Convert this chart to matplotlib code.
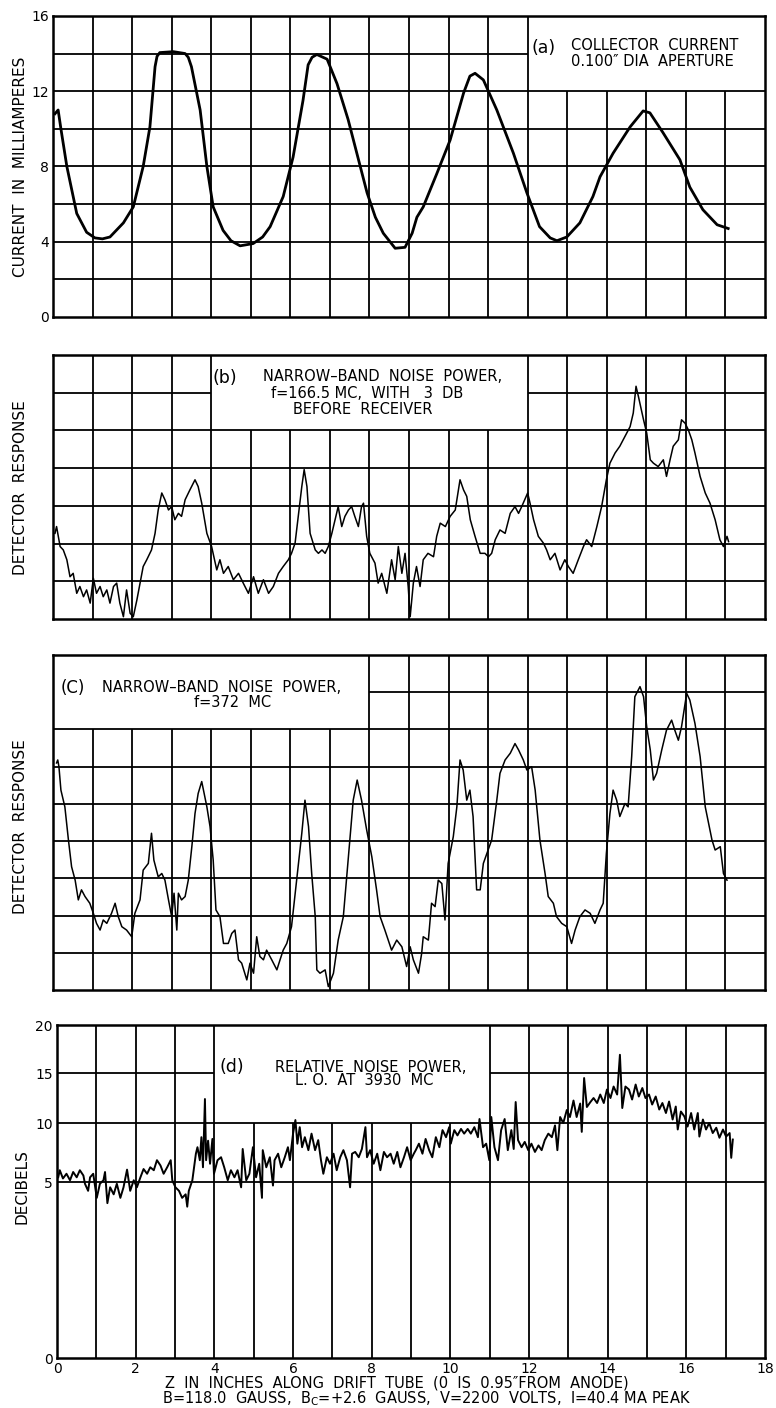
import matplotlib.pyplot as plt
import numpy as np

plt.rcParams['font.family'] = ['DejaVu Sans']

# (a) collector current, mA
a_z = [0.05, 0.13, 0.2, 0.35, 0.6, 0.85, 1.06, 1.25, 1.44, 1.78, 2.03, 2.28, 2.45, 2.58, 2.63, 2.7,
       3.04, 3.34, 3.42, 3.5, 3.72, 3.89, 4.05, 4.3, 4.5, 4.73, 5.06, 5.3, 5.49, 5.82, 6.07, 6.32,
       6.45, 6.55, 6.67, 6.93, 7.18, 7.46, 7.94, 8.15, 8.35, 8.65, 8.9, 9.08, 9.2, 9.36, 9.7,
       10.04, 10.38, 10.54, 10.67, 10.88, 11.22, 11.64, 11.98, 12.3, 12.57, 12.74, 12.99, 13.32,
       13.65, 13.83, 14.16, 14.59, 14.92, 15.09, 15.42, 15.85, 16.1, 16.43, 16.79, 17.07]
a_ma = [10.8, 11.0, 10.0, 8.0, 5.5, 4.5, 4.2, 4.15, 4.25, 5.0, 5.85, 8.0, 10.1, 13.3, 13.85, 14.05,
        14.1, 14.0, 13.8, 13.3, 11.0, 8.0, 5.85, 4.6, 4.05, 3.78, 3.9, 4.25, 4.8, 6.4, 8.5, 11.5,
        13.4, 13.8, 13.95, 13.7, 12.4, 10.5, 6.6, 5.3, 4.45, 3.65, 3.7, 4.45, 5.3, 5.85, 7.6,
        9.4, 11.9, 12.8, 12.95, 12.6, 11.0, 8.7, 6.6, 4.8, 4.2, 4.05, 4.25, 5.0,
        6.4, 7.45, 8.7, 10.1, 10.95, 10.85, 9.8, 8.35, 6.9, 5.7, 4.9, 4.7]

# (b) detector response, grid divisions, f = 166.5 MC
b_z = [0.05, 0.09, 0.18, 0.26, 0.35, 0.43, 0.51, 0.6, 0.68, 0.77, 0.85, 0.94, 1.02, 1.1, 1.19,
       1.27, 1.36, 1.44, 1.53, 1.61, 1.69, 1.78, 1.86, 1.95, 2.03, 2.12, 2.2, 2.28, 2.37, 2.49,
       2.58, 2.66, 2.75, 2.83, 2.92, 3.0, 3.08, 3.17, 3.25, 3.34, 3.46, 3.59, 3.67, 3.76, 3.89,
       4.01, 4.14, 4.22, 4.31, 4.43, 4.56, 4.69, 4.81, 4.94, 5.07, 5.19, 5.32, 5.45, 5.57, 5.7,
       5.82, 5.95, 6.03, 6.12, 6.2, 6.29, 6.35, 6.42, 6.5, 6.63, 6.71, 6.8, 6.88, 6.96, 7.05,
       7.13, 7.21, 7.3, 7.38, 7.47, 7.55, 7.63, 7.72, 7.8, 7.85, 7.93, 8.01, 8.14, 8.22, 8.31,
       8.44, 8.56, 8.65, 8.73, 8.82, 8.9, 8.98, 9.03, 9.11, 9.19, 9.28, 9.36, 9.48, 9.62, 9.7,
       9.79, 9.92, 10.04, 10.17, 10.29, 10.38, 10.46, 10.55, 10.67, 10.8, 10.92, 11.01, 11.09,
       11.18, 11.3, 11.43, 11.56, 11.68, 11.77, 11.85, 12.0, 12.06, 12.15, 12.27, 12.4, 12.48,
       12.57, 12.69, 12.82, 12.94, 13.03, 13.15, 13.28, 13.41, 13.49, 13.62, 13.75, 13.87,
       13.99, 14.08, 14.21, 14.33, 14.46, 14.59, 14.67, 14.74, 14.8, 14.93, 15.01, 15.1, 15.18,
       15.3, 15.43, 15.51, 15.6, 15.68, 15.81, 15.89, 15.98, 16.06, 16.15, 16.23, 16.36, 16.49,
       16.61, 16.74, 16.86, 16.95, 17.04, 17.08]
b_resp = [2.27, 2.45, 1.92, 1.83, 1.57, 1.12, 1.21, 0.68, 0.86, 0.59, 0.77, 0.42, 1.08, 0.68, 0.86,
          0.59, 0.77, 0.42, 0.86, 0.95, 0.42, 0.06, 0.77, 0.15, 0.06, 0.5, 0.95, 1.39, 1.57, 1.83,
          2.27, 2.89, 3.34, 3.16, 2.89, 2.98, 2.63, 2.8, 2.72, 3.16, 3.42, 3.69, 3.51, 3.07, 2.27,
          1.92, 1.3, 1.57, 1.21, 1.39, 1.04, 1.21, 0.95, 0.68, 1.12, 0.68, 1.04, 0.68, 0.86, 1.21,
          1.39, 1.57, 1.74, 2.01, 2.72, 3.51, 3.96, 3.51, 2.27, 1.83, 1.74, 1.83, 1.74, 1.92, 2.27,
          2.63, 2.98, 2.45, 2.72, 2.89, 2.98, 2.72, 2.45, 2.98, 3.07, 2.19, 1.74, 1.48, 0.95, 1.21,
          0.68, 1.57, 1.04, 1.92, 1.21, 1.74, 0.86, 0.06, 0.95, 1.39, 0.86, 1.57, 1.74, 1.65, 2.19,
          2.54, 2.45, 2.72, 2.89, 3.69, 3.42, 3.25, 2.63, 2.19, 1.74, 1.74, 1.65, 1.74,
          2.1, 2.36, 2.27, 2.8, 2.98, 2.8, 2.98, 3.34, 3.07, 2.63, 2.19, 2.01, 1.83,
          1.57, 1.74, 1.3, 1.57, 1.39, 1.21, 1.57, 1.92, 2.1, 1.92, 2.45, 2.98,
          3.69, 4.13, 4.4, 4.58, 4.84, 5.1, 5.46, 6.17, 5.9, 5.28, 4.93, 4.22, 4.13,
          4.04, 4.22, 3.78, 4.22, 4.58, 4.75, 5.28, 5.19, 5.02, 4.75, 4.4, 3.78, 3.34,
          3.07, 2.63, 2.1, 1.92, 2.19, 2.05]

# (c) detector response, grid divisions, f = 372 MC
c_z = [0.09, 0.12, 0.15, 0.2, 0.3, 0.39, 0.47, 0.56, 0.64, 0.72, 0.81, 0.93, 1.02, 1.1, 1.19,
       1.27, 1.36, 1.48, 1.57, 1.65, 1.74, 1.86, 1.99, 2.07, 2.2, 2.28, 2.41, 2.49, 2.55, 2.66,
       2.75, 2.83, 2.92, 3.0, 3.06, 3.13, 3.17, 3.25, 3.34, 3.42, 3.51, 3.59, 3.67, 3.76, 3.82,
       3.89, 3.97, 4.05, 4.12, 4.22, 4.31, 4.43, 4.52, 4.6, 4.69, 4.77, 4.9, 4.98, 5.07, 5.15,
       5.23, 5.32, 5.4, 5.53, 5.66, 5.74, 5.82, 5.91, 6.03, 6.16, 6.29, 6.37, 6.46, 6.54, 6.63,
       6.67, 6.75, 6.88, 6.96, 7.09, 7.21, 7.34, 7.47, 7.59, 7.69, 7.8, 7.93, 8.06, 8.18, 8.27,
       8.39, 8.56, 8.69, 8.82, 8.94, 9.03, 9.11, 9.24, 9.32, 9.36, 9.49, 9.57, 9.66, 9.74, 9.83,
       9.91, 9.99, 10.12, 10.21, 10.29, 10.37, 10.46, 10.54, 10.62, 10.71, 10.8, 10.88, 10.97,
       11.09, 11.22, 11.3, 11.43, 11.56, 11.68, 11.77, 11.89, 11.98, 12.1, 12.19, 12.31, 12.44,
       12.52, 12.65, 12.73, 12.86, 12.99, 13.11, 13.2, 13.32, 13.45, 13.58, 13.7, 13.83, 13.91,
       13.99, 14.08, 14.16, 14.25, 14.33, 14.46, 14.54, 14.63, 14.71, 14.84, 14.93, 15.01, 15.1,
       15.18, 15.26, 15.39, 15.51, 15.64, 15.72, 15.81, 15.89, 16.02, 16.1, 16.23, 16.36, 16.49,
       16.66, 16.74, 16.87, 16.95, 17.04]
c_resp = [6.1, 6.18, 6.0, 5.37, 4.92, 4.03, 3.31, 2.95, 2.42, 2.69, 2.51, 2.33, 2.06, 1.79, 1.61,
          1.88, 1.79, 2.06, 2.33, 1.97, 1.7, 1.61, 1.43, 2.06, 2.42, 3.22, 3.4, 4.21, 3.49, 3.04,
          3.13, 2.95, 2.42, 1.97, 2.6, 1.61, 2.6, 2.42, 2.51, 2.95, 3.85, 4.74, 5.28, 5.6, 5.28,
          4.92, 4.39, 3.49, 2.15, 1.97, 1.25, 1.25, 1.52, 1.61, 0.81, 0.72, 0.27, 0.72, 0.45, 1.43,
          0.9, 0.81, 1.07, 0.81, 0.54, 0.81, 1.07, 1.25, 1.7, 2.95, 4.21, 5.1, 4.39, 3.13, 1.97,
          0.54, 0.45, 0.54, 0.09, 0.45, 1.34, 1.97, 3.58, 5.1, 5.64, 5.1, 4.3, 3.58, 2.69, 1.97,
          1.61, 1.07, 1.34, 1.16, 0.63, 1.16, 0.81, 0.45, 0.98, 1.43, 1.34, 2.33, 2.24, 2.95, 2.86,
          1.88, 3.4, 4.12, 4.92, 6.18, 5.91, 5.1, 5.37, 4.66, 2.69, 2.69, 3.4, 3.67,
          4.03, 5.1, 5.82, 6.18, 6.36, 6.62, 6.45, 6.18, 5.91, 6.0, 5.37, 4.03, 3.13,
          2.51, 2.33, 1.97, 1.79, 1.7, 1.25, 1.61, 1.97, 2.15, 2.06, 1.79, 2.15, 2.33,
          3.67, 4.74, 5.37, 5.1, 4.66, 5.01, 4.92, 6.27, 7.88, 8.15, 7.88, 7.07, 6.45,
          5.64, 5.82, 6.45, 6.98, 7.25, 6.98, 6.71, 7.07, 7.97, 7.79, 7.16, 6.27, 4.92,
          4.03, 3.76, 3.85, 3.13, 2.95]

# (d) relative noise power, decibels
d_z = [0.03, 0.07, 0.15, 0.24, 0.33, 0.41, 0.5, 0.58, 0.67, 0.71, 0.79, 0.84, 0.92, 1.01, 1.09,
       1.18, 1.22, 1.28, 1.35, 1.44, 1.52, 1.61, 1.69, 1.78, 1.86, 1.95, 2.03, 2.12, 2.2, 2.29,
       2.37, 2.46, 2.54, 2.63, 2.71, 2.8, 2.89, 2.93, 3.01, 3.1, 3.18, 3.27, 3.31, 3.35, 3.44,
       3.53, 3.57, 3.63, 3.67, 3.71, 3.76, 3.79, 3.84, 3.89, 3.95, 3.99, 4.08, 4.17, 4.25, 4.34,
       4.42, 4.51, 4.59, 4.68, 4.72, 4.81, 4.89, 4.98, 5.06, 5.14, 5.21, 5.23, 5.32, 5.41, 5.49,
       5.53, 5.62, 5.7, 5.79, 5.87, 5.92, 6.0, 6.06, 6.11, 6.17, 6.23, 6.3, 6.39, 6.47, 6.56,
       6.64, 6.71, 6.77, 6.86, 6.94, 7.03, 7.11, 7.2, 7.28, 7.37, 7.45, 7.5, 7.58, 7.67, 7.75,
       7.84, 7.88, 7.96, 8.05, 8.14, 8.22, 8.31, 8.39, 8.48, 8.56, 8.65, 8.73, 8.82, 8.9, 8.99,
       9.07, 9.12, 9.2, 9.29, 9.37, 9.46, 9.54, 9.63, 9.72, 9.8, 9.89, 9.97, 10.01, 10.1, 10.18,
       10.27, 10.35, 10.44, 10.52, 10.61, 10.7, 10.74, 10.83, 10.91, 10.99, 11.04, 11.12, 11.21,
       11.29, 11.38, 11.46, 11.55, 11.61, 11.66, 11.72, 11.81, 11.89, 11.98, 12.06, 12.15, 12.24,
       12.32, 12.4, 12.49, 12.58, 12.66, 12.72, 12.79, 12.87, 12.96, 13.04, 13.13, 13.21, 13.3,
       13.34, 13.4, 13.47, 13.56, 13.64, 13.73, 13.81, 13.9, 13.98, 14.07, 14.15, 14.24, 14.31,
       14.37, 14.45, 14.54, 14.62, 14.71, 14.79, 14.88, 14.96, 15.05, 15.13, 15.22, 15.31, 15.39,
       15.48, 15.56, 15.65, 15.73, 15.78, 15.86, 15.95, 16.03, 16.12, 16.2, 16.29, 16.33, 16.42,
       16.5, 16.58, 16.67, 16.76, 16.84, 16.93, 17.01, 17.1, 17.14, 17.18]
d_db = [5.4, 6.0, 5.3, 5.7, 5.15, 5.85, 5.4, 6.0, 5.55, 4.95, 4.75, 5.4, 5.7, 4.55, 4.95,
        5.15, 5.85, 4.4, 4.85, 4.65, 4.95, 4.55, 4.85, 6.05, 4.75, 5.15, 4.85, 5.4, 6.1, 5.7,
        6.25, 6.0, 6.85, 6.4, 5.7, 6.25, 6.85, 5.15, 4.85, 4.75, 4.55, 4.65, 4.3, 4.75, 5.15,
        7.4, 7.95, 6.85, 8.8, 6.25, 12.4, 6.85, 8.5, 6.55, 8.65, 5.7, 6.85, 7.1, 6.25, 5.15,
        6.0, 5.4, 6.0, 4.85, 7.8, 5.15, 5.7, 7.95, 5.4, 6.55, 4.55, 7.7, 6.25, 7.1, 4.9,
        6.85, 7.4, 6.25, 7.1, 7.95, 6.85, 9.1, 10.3, 8.25, 9.65, 7.95, 8.8, 7.7, 9.1, 7.7,
        8.55, 6.85, 5.7, 7.1, 6.55, 7.4, 6.0, 7.1, 7.7, 6.85, 4.85, 7.4, 7.55, 7.1, 7.8,
        9.65, 7.1, 7.7, 6.55, 7.4, 6.0, 7.55, 7.1, 7.4, 6.55, 7.55, 6.25, 7.1, 7.95, 6.85,
        7.4, 7.7, 8.25, 7.4, 8.65, 7.7, 7.1, 8.8, 7.95, 9.4, 8.8, 9.65, 8.25, 9.4, 8.95,
        9.5, 9.1, 9.5, 9.1, 9.65, 8.8, 10.4, 7.95, 8.25, 6.85, 10.6, 7.95, 6.85,
        9.4, 10.4, 7.7, 9.4, 7.8, 12.1, 8.55, 7.95, 8.4, 7.7, 8.25, 7.55, 8.1,
        7.7, 8.55, 9.1, 8.8, 9.8, 7.7, 10.6, 10.0, 11.3, 10.6, 12.25, 10.6, 11.95,
        9.25, 14.5, 11.6, 12.1, 12.5, 12.0, 12.85, 12.0, 13.35, 12.5, 13.65, 12.85, 16.9,
        11.5, 13.65, 13.35, 12.35, 13.85, 12.65, 13.5, 12.5, 12.85, 11.85, 12.65, 11.35, 12.0,
        11.0, 12.15, 10.35, 11.65, 9.45, 11.15, 10.65, 9.7, 11.0, 9.45, 11.0, 8.85, 10.35,
        9.45, 10.0, 9.15, 9.6, 8.75, 9.45, 8.85, 9.15, 7.05, 8.6]

# tick labels
a_ticks = [0, 4, 8, 12, 16]
d_ticks = [0, 5, 10, 15, 20]
z_ticks = [0, 2, 4, 6, 8, 10, 12, 14, 16, 18]
# the decibel axis of (d) is not linear: where each labelled value sits, bottom to top
d_pos = [0, 176, 235, 285, 333]

fig = plt.figure(figsize=(7.76, 14.08), dpi=100)
ax_a = fig.add_axes([0.0683, 0.7749, 0.9175, 0.2138])
ax_b = fig.add_axes([0.0683, 0.5604, 0.9175, 0.1875])
ax_c = fig.add_axes([0.0683, 0.2969, 0.9175, 0.2379])
ax_d = fig.add_axes([0.0735, 0.0355, 0.9124, 0.2365])

ax_d.set_yscale('function', functions=(lambda v: np.interp(v, d_ticks, d_pos),
                                       lambda p: np.interp(p, d_pos, d_ticks)))

GRID = dict(color='black', lw=1.3, zorder=1, solid_capstyle='butt')


def draw_grid(ax, xs, ys, box):
    # grid lines stop at the blank box that holds the caption
    x0, x1, y0, y1 = box
    xmin, xmax = ax.get_xlim()
    ymin, ymax = ax.get_ylim()
    for x in xs:
        top = y0 if x0 < x < x1 else ymax
        ax.plot([x, x], [ymin, top], **GRID)
    for y in ys:
        if y0 < y < y1:
            ax.plot([xmin, x0], [y, y], **GRID)
            ax.plot([x1, xmax], [y, y], **GRID)
        else:
            ax.plot([xmin, xmax], [y, y], **GRID)


for ax, top in [(ax_a, 16), (ax_b, 7), (ax_c, 9), (ax_d, 20)]:
    ax.set_xlim(0, 18)
    ax.set_ylim(0, top)
    for s in ax.spines.values():
        s.set_linewidth(1.8)
    ax.tick_params(length=0, labelsize=10)
    ax.set_xticks([])
    ax.set_yticks([])

draw_grid(ax_a, range(1, 18), range(2, 16, 2), (12, 18, 12, 16))
draw_grid(ax_b, range(1, 18), range(1, 7), (4, 12, 5, 7))
draw_grid(ax_c, range(1, 18), range(1, 9), (0, 8, 7, 9))
draw_grid(ax_d, range(1, 18), [5, 10, 15], (4, 11, 10, 20))

ax_a.plot(a_z, a_ma, color='black', lw=2.0, zorder=3, solid_joinstyle='round')
ax_b.plot(b_z, b_resp, color='black', lw=1.1, zorder=3)
ax_c.plot(c_z, c_resp, color='black', lw=1.1, zorder=3)
ax_d.plot(d_z, d_db, color='black', lw=1.4, zorder=3)

ax_a.set_yticks(a_ticks)
ax_a.tick_params(axis='y', pad=3)
ax_d.set_yticks(d_ticks)
ax_d.tick_params(axis='y', pad=3)
ax_d.set_xticks(z_ticks)
ax_d.tick_params(axis='x', pad=3)

# captions
CAP = dict(fontsize=10.5, ha='center', va='center')
ax_a.text(12.1, 14.3, '(a)', fontsize=12.5, va='center')
ax_a.text(15.2, 14.45, 'COLLECTOR  CURRENT', **CAP)
ax_a.text(15.15, 13.6, '0.100\u2033 DIA  APERTURE', **CAP)

ax_b.text(4.35, 6.39, '(b)', fontsize=12.5, ha='center', va='center')
ax_b.text(8.32, 6.42, 'NARROW\u2013BAND  NOISE  POWER,', **CAP)
ax_b.text(7.94, 5.98, 'f=166.5 MC,  WITH   3  DB', **CAP)
ax_b.text(7.82, 5.56, 'BEFORE  RECEIVER', **CAP)

ax_c.text(0.2, 8.12, '(C)', fontsize=12, va='center')
ax_c.text(4.27, 8.12, 'NARROW\u2013BAND  NOISE  POWER,', **CAP)
ax_c.text(4.55, 7.72, 'f=372  MC', **CAP)

ax_d.text(4.12, 15.6, '(d)', fontsize=12.5, va='center')
ax_d.text(7.98, 15.55, 'RELATIVE  NOISE  POWER,', **CAP)
ax_d.text(7.8, 14.25, 'L. O.  AT  3930  MC', **CAP)

# axis titles
TITLE = dict(rotation=90, fontsize=11, ha='center', va='center')
fig.text(0.026, 0.8814, 'CURRENT  IN  MILLIAMPERES', **TITLE)
fig.text(0.026, 0.654, 'DETECTOR  RESPONSE', **TITLE)
fig.text(0.026, 0.4126, 'DETECTOR  RESPONSE', **TITLE)
fig.text(0.028, 0.157, 'DECIBELS', **TITLE)
fig.text(0.5116, 0.0178, 'Z  IN  INCHES  ALONG  DRIFT  TUBE  (0  IS  0.95\u2033FROM  ANODE)',
         fontsize=10.5, ha='center', va='center')
fig.text(0.549, 0.0068, 'B=118.0  GAUSS,  B$\\mathregular{_C}$=+2.6  GAUSS,  V=2200  VOLTS,  I=40.4 MA PEAK',
         fontsize=10.5, ha='center', va='center')

fig.savefig('out.png', dpi=100)
